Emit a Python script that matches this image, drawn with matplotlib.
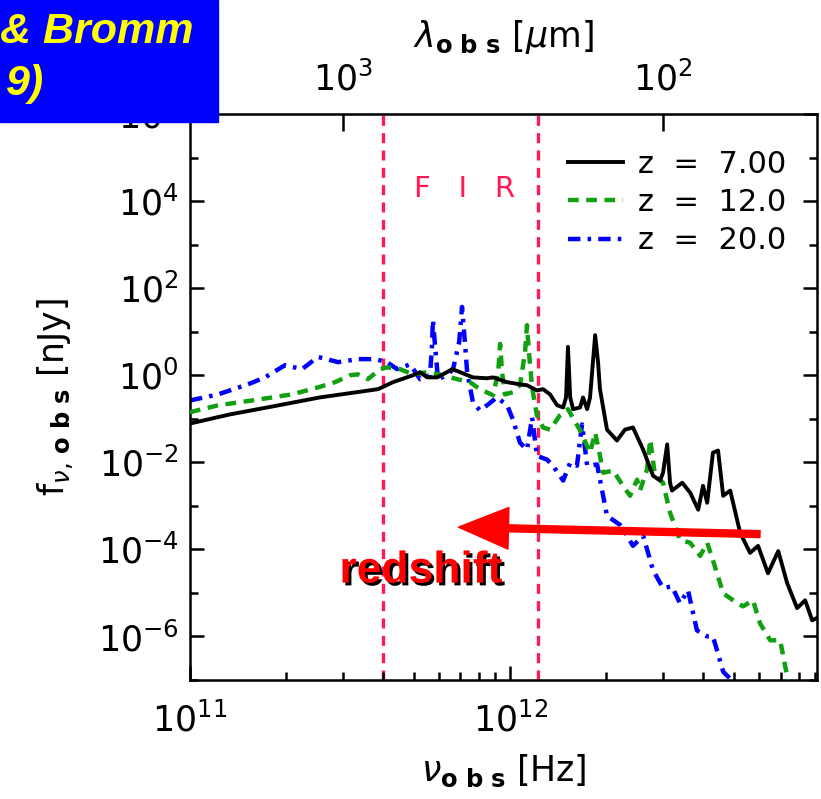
import numpy as np
import matplotlib
matplotlib.use('Agg')
import matplotlib.pyplot as plt
import matplotlib.ticker as mticker
import matplotlib.patheffects as pe
from matplotlib.patches import Rectangle

# log10(nu_obs / Hz) and log10(f_nu / nJy)
z7_lognu = [11.000, 11.125, 11.256, 11.406, 11.588, 11.634, 11.697, 11.719, 11.741, 11.772,
            11.803, 11.819, 11.844, 11.884, 11.928, 11.947, 11.991, 12.031, 12.053, 12.084,
            12.103, 12.125, 12.147, 12.166, 12.175, 12.181, 12.188, 12.197, 12.219, 12.228,
            12.241, 12.250, 12.259, 12.266, 12.275, 12.281, 12.303, 12.334, 12.359, 12.384,
            12.416, 12.447, 12.469, 12.478, 12.491, 12.500, 12.506, 12.538, 12.563, 12.588,
            12.603, 12.616, 12.634, 12.650, 12.666, 12.688, 12.719, 12.750, 12.775, 12.806,
            12.838, 12.866, 12.897, 12.922, 12.944, 12.969]
z7_logf = [-1.11, -0.90, -0.72, -0.51, -0.32, -0.16, 0.00, 0.07, -0.05, -0.05,
           0.07, 0.14, 0.07, -0.05, -0.07, -0.05, -0.16, -0.21, -0.23, -0.35,
           -0.32, -0.44, -0.69, -0.74, -0.51, 0.65, -0.51, -0.78, -0.74, -0.51,
           -0.78, -0.51, 0.30, 0.92, 0.30, -0.32, -1.25, -1.50, -1.25, -1.20,
           -1.71, -2.31, -2.42, -2.24, -1.59, -2.47, -2.65, -2.47, -2.70, -3.09,
           -2.54, -2.93, -1.78, -1.73, -2.77, -2.65, -3.62, -4.08, -3.92, -4.55,
           -4.04, -4.78, -5.35, -5.17, -5.63, -5.54]

z12_lognu = [11.000, 11.088, 11.194, 11.319, 11.400, 11.453, 11.500, 11.525, 11.556, 11.594,
             11.616, 11.656, 11.697, 11.741, 11.791, 11.834, 11.875, 11.906, 11.947, 11.963,
             11.969, 11.975, 11.984, 12.009, 12.031, 12.047, 12.053, 12.059, 12.069, 12.084,
             12.103, 12.125, 12.156, 12.181, 12.219, 12.250, 12.266, 12.281, 12.291, 12.322,
             12.353, 12.375, 12.397, 12.406, 12.428, 12.438, 12.453, 12.478, 12.500, 12.531,
             12.563, 12.594, 12.616, 12.634, 12.666, 12.697, 12.728, 12.759, 12.781, 12.813,
             12.844, 12.866, 12.881]
z12_logf = [-0.85, -0.69, -0.58, -0.44, -0.28, -0.16, 0.00, 0.02, -0.09, 0.14,
            0.18, 0.14, 0.02, 0.07, 0.00, -0.09, -0.16, -0.32, -0.46, 0.07,
            0.72, 0.07, -0.44, -0.39, -0.23, 0.53, 1.15, 0.53, -0.28, -0.92,
            -1.20, -1.25, -0.92, -0.78, -1.27, -1.78, -1.32, -1.85, -2.24, -2.19,
            -2.54, -2.77, -2.40, -2.65, -2.17, -1.48, -2.31, -2.47, -3.16, -3.78,
            -3.85, -4.15, -3.85, -4.25, -5.01, -5.17, -5.31, -5.17, -5.70, -6.09,
            -6.09, -6.92, -7.55]

z20_lognu = [11.000, 11.088, 11.181, 11.234, 11.297, 11.350, 11.400, 11.463, 11.525, 11.578,
             11.616, 11.647, 11.688, 11.719, 11.750, 11.756, 11.759, 11.766, 11.775, 11.803,
             11.822, 11.841, 11.850, 11.859, 11.866, 11.884, 11.906, 11.928, 11.959, 11.991,
             12.009, 12.031, 12.053, 12.069, 12.084, 12.116, 12.134, 12.166, 12.188, 12.209,
             12.225, 12.241, 12.272, 12.303, 12.344, 12.366, 12.384, 12.416, 12.447, 12.478,
             12.506, 12.531, 12.556, 12.584, 12.616, 12.634, 12.666, 12.697, 12.719]
z20_logf = [-0.58, -0.44, -0.21, -0.05, 0.23, 0.14, 0.42, 0.30, 0.37, 0.37,
            0.30, 0.14, 0.25, -0.09, 0.00, 0.65, 1.27, 0.65, -0.09, 0.00,
            0.14, 0.76, 1.57, 0.76, 0.07, -0.62, -0.81, -0.69, -0.51, -0.69,
            -1.02, -1.55, -1.71, -0.97, -1.85, -1.94, -2.08, -2.42, -2.01, -2.08,
            -1.13, -2.08, -2.05, -3.23, -3.44, -3.69, -3.92, -3.69, -4.48, -4.89,
            -4.85, -5.24, -4.94, -5.86, -6.00, -6.00, -6.81, -7.04, -7.32]

fir_edges = [4.0e11, 1.22e12]
labels = ['z  =  7.00', 'z  =  12.0', 'z  =  20.0']
c_um = 2.998e14  # speed of light in micron/s

fig = plt.figure(figsize=(8.21, 7.99), dpi=100)
ax = fig.add_axes([0.2314, 0.149, 0.7637, 0.7083])

ax.plot(10 ** np.array(z7_lognu), 10 ** np.array(z7_logf), color='black', lw=2.8,
        label=labels[0], zorder=4, solid_joinstyle='round')
ax.plot(10 ** np.array(z12_lognu), 10 ** np.array(z12_logf), color='#10a010', lw=3.2,
        ls=(0, (2.4, 1.7)), label=labels[1], zorder=3)
ax.plot(10 ** np.array(z20_lognu), 10 ** np.array(z20_logf), color='#0000ff', lw=3.2,
        ls=(0, (2.8, 1.6, 0.8, 1.6)), label=labels[2], zorder=2)

for x in fir_edges:
    ax.axvline(x, color='#ff1a55', lw=2.4, ls=(0, (3, 2.2)), zorder=1)

ax.set_xscale('log')
ax.set_yscale('log')
ax.set_xlim(1e11, 9.1e12)
ax.set_ylim(1e-7, 1e6)

ax.xaxis.set_major_locator(mticker.FixedLocator([1e11, 1e12]))
ax.xaxis.set_minor_locator(mticker.LogLocator(base=10, subs=np.arange(2, 10)))
ax.xaxis.set_minor_formatter(mticker.NullFormatter())
ax.yaxis.set_major_locator(mticker.FixedLocator([10.0 ** k for k in range(-6, 7, 2)]))
ax.yaxis.set_minor_locator(mticker.FixedLocator([10.0 ** k for k in range(-7, 6, 2)]))
ax.yaxis.set_minor_formatter(mticker.NullFormatter())

ax.tick_params(which='both', direction='in', top=False, right=True, width=1.8, labelsize=25)
ax.tick_params(which='major', length=10)
ax.tick_params(which='minor', length=6)
ax.tick_params(axis='x', which='major', pad=16)
ax.tick_params(axis='y', which='major', pad=8)
for s in ax.spines.values():
    s.set_linewidth(1.8)

sec = ax.secondary_xaxis('top', functions=(lambda n: c_um / n, lambda l: c_um / l))
sec.xaxis.set_major_locator(mticker.FixedLocator([1e2, 1e3]))
sec.xaxis.set_minor_locator(mticker.NullLocator())
sec.tick_params(direction='in', length=12, width=1.8, labelsize=25, pad=12)
sec.set_xlabel(r'$\lambda_{\mathbf{o\ b\ s}}$ [$\mu$m]', fontsize=25, labelpad=10)

ax.set_xlabel(r'$\nu_{\mathbf{o\ b\ s}}$ [Hz]', fontsize=25, labelpad=10)
ax.set_ylabel(r'$\mathrm{f}_{\nu,\,\mathbf{o\ b\ s}}$ [nJy]', fontsize=25, labelpad=16)

ax.legend(loc='upper right', bbox_to_anchor=(0.995, 0.985), frameon=False, fontsize=22,
          handlelength=1.8, handletextpad=0.5, labelspacing=0.3)

ax.text(7.2e11, 10 ** 4.27, 'F   I   R', color='#ff1a55', fontsize=21,
        ha='center', va='center')

ax.annotate('', xy=(6.9e11, 10 ** -3.49), xytext=(6.04e12, 10 ** -3.65),
            arrowprops=dict(facecolor='#ff0000', edgecolor='#ff0000', width=5,
                            headwidth=30, headlength=36, shrink=0), zorder=6)
ax.text(5.27e11, 10 ** -4.5, 'redshift', color='#ff0000', fontsize=32,
        fontweight='bold', family='Liberation Sans', ha='center', va='center', zorder=6,
        path_effects=[pe.SimplePatchShadow(offset=(2, -2), shadow_rgbFace='black', alpha=1),
                      pe.Normal()])

fig.patches.append(Rectangle((0, 1 - 122 / 799), 218 / 821, 122 / 799,
                             transform=fig.transFigure, color='#0000ff', zorder=10))
fig.text(193 / 821, 1 - 32 / 799, '& Bromm', color='#ffff00', fontsize=31,
         fontweight='bold', fontstyle='italic', family='Liberation Sans',
         ha='right', va='center', zorder=11)
fig.text(44 / 821, 1 - 84 / 799, '9)', color='#ffff00', fontsize=31,
         fontweight='bold', fontstyle='italic', family='Liberation Sans',
         ha='right', va='center', zorder=11)

fig.savefig('out.png', dpi=100)
